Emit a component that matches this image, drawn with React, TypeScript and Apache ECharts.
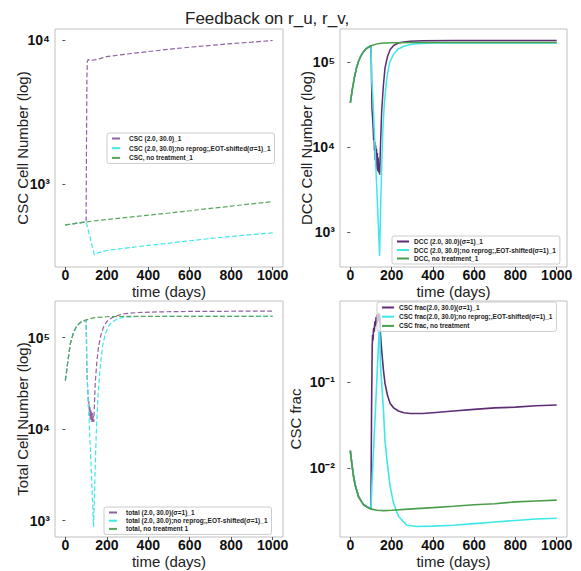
import React, { useEffect, useRef } from "react";
import * as echarts from "echarts";

const FONT = "'Liberation Sans', Arial, sans-serif";
const TITLE = "Feedback on r_u, r_v,";
const X_NAME = "time (days)";
const xTicks = [0, 200, 400, 600, 800, 1000];

// Panel 1: CSC cell number
const cscTicks = [1000, 10000];
const cscTreat: number[][] = [[0, 519], [50, 532], [100, 545], [102, 2000], [104, 5600], [106, 7050], [110, 7300], [120, 7200], [150, 7300], [200, 7650], [300, 7980], [400, 8300], [500, 8600], [600, 8900], [700, 9150], [800, 9420], [900, 9650], [1000, 9900]];
const cscNoReprog: number[][] = [[0, 519], [50, 532], [100, 545], [110, 480], [120, 420], [130, 365], [140, 322], [150, 330], [175, 338], [200, 345], [300, 360], [400, 374], [500, 388], [600, 403], [700, 418], [800, 432], [900, 445], [1000, 457]];
const cscNone: number[][] = [[0, 519], [100, 545], [200, 566], [300, 586], [400, 607], [500, 628], [600, 651], [700, 676], [800, 701], [900, 727], [1000, 754]];

// Panel 2: DCC cell number
const dccTicks = [1000, 10000, 100000];
const dccTreat: number[][] = [[0, 33000], [10, 48000], [20, 66000], [30, 85000], [40, 102000], [50, 116000], [60, 128000], [75, 142000], [100, 155000], [102, 90000], [105, 28000], [108, 22000], [111, 16000], [113, 12000], [115, 15000], [117, 9000], [119, 11500], [121, 7000], [123, 10500], [125, 6000], [127, 9500], [129, 5500], [131, 8500], [133, 5200], [135, 7500], [137, 5000], [139, 6500], [142, 4700], [147, 12000], [152, 26500], [160, 52000], [168, 85000], [180, 115000], [193, 140000], [210, 156000], [233, 167000], [260, 172000], [290, 175000], [350, 177500], [500, 178500], [1000, 179000]];
const dccNoReprog: number[][] = [[0, 33000], [10, 48000], [20, 66000], [30, 85000], [40, 102000], [50, 116000], [60, 128000], [75, 142000], [100, 155000], [104, 60000], [110, 35700], [115, 18000], [120, 9500], [125, 4900], [130, 2600], [135, 1330], [140, 690], [142, 523], [146, 1600], [150, 3800], [154, 8500], [158, 16700], [165, 33000], [177, 65000], [190, 98000], [209, 122000], [230, 141000], [257, 152000], [290, 160000], [322, 164000], [400, 166500], [1000, 167000]];
const dccNone: number[][] = [[0, 33000], [10, 48000], [20, 66000], [30, 85000], [40, 102000], [50, 116000], [60, 128000], [75, 142000], [100, 155000], [125, 162000], [150, 166000], [200, 168500], [300, 169000], [1000, 169000]];

// Panel 3: total cell number
const totTicks = [1000, 10000, 100000];
const totTreat: number[][] = [[0, 34000], [12, 55000], [24, 86000], [40, 115000], [57, 136000], [75, 148000], [100, 155000], [102, 100000], [104, 41000], [107, 30000], [110, 22000], [112, 17000], [114, 20000], [116, 14000], [118, 18000], [120, 13000], [122, 16500], [124, 12500], [126, 15500], [128, 12000], [130, 15000], [132, 12000], [134, 14000], [137, 12000], [140, 18000], [144, 31600], [152, 55000], [160, 79000], [172, 108000], [184, 130000], [200, 150000], [225, 165000], [250, 174000], [282, 182000], [350, 188000], [450, 191000], [600, 193000], [1000, 195000]];
const totNoReprog: number[][] = [[0, 34000], [12, 55000], [24, 86000], [40, 115000], [57, 136000], [75, 148000], [100, 155000], [103, 45000], [110, 22000], [115, 12000], [120, 6500], [125, 3500], [130, 1900], [136, 860], [140, 1700], [145, 4500], [149, 9000], [158, 24000], [168, 48000], [180, 82000], [193, 110000], [208, 133000], [225, 148000], [250, 160000], [282, 167000], [350, 170000], [1000, 170500]];
const totNone: number[][] = [[0, 34000], [12, 55000], [24, 86000], [40, 115000], [57, 136000], [75, 148000], [97, 155000], [125, 162000], [150, 166000], [200, 169000], [300, 170500], [1000, 171000]];

// Panel 4: CSC fraction
const fracTicks = [0.01, 0.1];
const fracTreat: number[][] = [[0, 0.016], [8, 0.011], [16, 0.008], [25, 0.0062], [40, 0.0047], [55, 0.0041], [65, 0.0038], [80, 0.0036], [100, 0.0034], [103, 0.05], [106, 0.25], [108, 0.35], [110, 0.3], [113, 0.42], [116, 0.38], [119, 0.5], [122, 0.44], [125, 0.56], [128, 0.47], [131, 0.6], [134, 0.5], [137, 0.62], [140, 0.55], [142, 0.6], [146, 0.36], [152, 0.23], [160, 0.14], [168, 0.096], [180, 0.07], [193, 0.056], [210, 0.05], [233, 0.046], [260, 0.044], [290, 0.043], [350, 0.043], [400, 0.044], [500, 0.046], [600, 0.048], [700, 0.05], [800, 0.051], [900, 0.053], [1000, 0.054]];
const fracNoReprog: number[][] = [[0, 0.016], [8, 0.011], [16, 0.008], [25, 0.0062], [40, 0.0047], [55, 0.0041], [65, 0.0038], [80, 0.0036], [100, 0.0034], [105, 0.0067], [110, 0.012], [115, 0.022], [120, 0.039], [125, 0.07], [130, 0.126], [135, 0.23], [140, 0.41], [142, 0.43], [146, 0.16], [152, 0.096], [160, 0.05], [168, 0.021], [180, 0.011], [193, 0.0062], [209, 0.004], [233, 0.0028], [274, 0.0022], [322, 0.00213], [400, 0.00215], [500, 0.0022], [600, 0.0023], [700, 0.0024], [800, 0.0025], [900, 0.0026], [1000, 0.00265]];
const fracNone: number[][] = [[0, 0.016], [8, 0.011], [16, 0.008], [25, 0.0062], [40, 0.0047], [55, 0.0041], [65, 0.0038], [80, 0.0036], [97, 0.0034], [130, 0.00328], [160, 0.00325], [200, 0.00328], [300, 0.0034], [400, 0.00352], [500, 0.00365], [600, 0.0038], [700, 0.0039], [800, 0.0041], [900, 0.0042], [1000, 0.0043]];

const names1 = ["CSC (2.0, 30.0)_1", "CSC (2.0, 30.0);no reprog;,EOT-shifted(σ=1)_1", "CSC, no treatment_1"];
const names2 = ["DCC (2.0, 30.0)(σ=1)_1", "DCC (2.0, 30.0);no reprog;,EOT-shifted(σ=1)_1", "DCC, no treatment_1"];
const names3 = ["total (2.0, 30.0)(σ=1)_1", "total (2.0, 30.0);no reprog;,EOT-shifted(σ=1)_1", "total, no treatment 1"];
const names4 = ["CSC frac(2.0, 30.0)(σ=1)_1", "CSC frac(2.0, 30.0);no reprog;,EOT-shifted(σ=1)_1", "CSC frac, no treatment"];
const yNames = ["CSC Cell Number (log)", "DCC Cell Number (log)", "Total Cell Number (log)", "CSC frac"];

const SUP: Record<string, string> = { "0": "⁰", "1": "¹", "2": "²", "3": "³", "4": "⁴", "5": "⁵", "6": "⁶", "7": "⁷", "8": "⁸", "9": "⁹", "-": "⁻" };
function pow10Label(v: number): string {
  const e = Math.round(Math.log10(v));
  return "10" + String(e).split("").map((c) => SUP[c] || c).join("");
}

const PURPLE = "#5e2d74";
const PURPLE_D = "#8e62a3";
const CYAN = "#3ee8e8";
const GREEN = "#4a9e4a";
const GREEN_D = "#5aa55a";

export default function App() {
  const ref = useRef<HTMLDivElement>(null);
  useEffect(() => {
    if (!ref.current) return;
    const chart = echarts.init(ref.current, undefined, { renderer: "svg" });
    const grids = [
      { left: 55, top: 29, width: 228, height: 238 },
      { left: 340, top: 29, width: 227, height: 238 },
      { left: 55, top: 301, width: 228, height: 236 },
      { left: 340, top: 301, width: 227, height: 236 },
    ];
    const yRanges = [[265, 11900], [387, 244000], [664, 251000], [0.00161, 0.859]];
    const yTickSets = [cscTicks, dccTicks, totTicks, fracTicks];
    const yGaps = [25, 26, 25, 37];
    const xAxis = grids.map((_, i) => ({
      type: "value",
      gridIndex: i,
      min: -50,
      max: 1050,
      axisLine: { show: false },
      splitLine: { show: false },
      axisTick: { show: true, customValues: xTicks, length: 3, lineStyle: { color: "#555" } },
      axisLabel: { customValues: xTicks, formatter: (v: number) => String(v), fontSize: 14, lineHeight: 12, fontWeight: "bold", color: "#111", margin: 2, fontFamily: FONT },
      name: X_NAME,
      nameLocation: "middle",
      nameGap: 18,
      nameMoveOverlap: false,
      nameTextStyle: { fontSize: 15, lineHeight: 13, color: "#222", fontFamily: FONT },
    }));
    const yAxis = grids.map((_, i) => ({
      type: "log",
      logBase: 10,
      gridIndex: i,
      min: yRanges[i][0],
      max: yRanges[i][1],
      axisLine: { show: false },
      splitLine: { show: false },
      axisTick: { show: true, customValues: yTickSets[i], length: 3, lineStyle: { color: "#555" } },
      axisLabel: { customValues: yTickSets[i], formatter: (v: number) => pow10Label(v), fontSize: 14, fontWeight: "bold", color: "#111", margin: 5, fontFamily: FONT },
      name: yNames[i],
      nameLocation: "middle",
      nameGap: yGaps[i],
      nameMoveOverlap: false,
      nameTextStyle: { fontSize: 15, color: "#222", fontFamily: FONT },
    }));
    const mk = (name: string, data: number[][], idx: number, color: string, width: number, type: string, z: number) => ({
      type: "line",
      name,
      data,
      xAxisIndex: idx,
      yAxisIndex: idx,
      symbol: "none",
      lineStyle: { color, width, type },
      itemStyle: { color },
      z,
    });
    const series = [
      mk(names1[0], cscTreat, 0, PURPLE_D, 1.2, "dashed", 2),
      mk(names1[1], cscNoReprog, 0, CYAN, 1.2, "dashed", 3),
      mk(names1[2], cscNone, 0, GREEN_D, 1.2, "dashed", 4),
      mk(names2[0], dccTreat, 1, PURPLE, 1.5, "solid", 2),
      mk(names2[1], dccNoReprog, 1, CYAN, 1.5, "solid", 3),
      mk(names2[2], dccNone, 1, GREEN, 1.5, "solid", 4),
      mk(names3[0], totTreat, 2, PURPLE_D, 1.2, "dashed", 2),
      mk(names3[1], totNoReprog, 2, CYAN, 1.2, "dashed", 3),
      mk(names3[2], totNone, 2, GREEN_D, 1.2, "dashed", 4),
      mk(names4[0], fracTreat, 3, PURPLE, 1.6, "solid", 2),
      mk(names4[1], fracNoReprog, 3, CYAN, 1.6, "solid", 3),
      mk(names4[2], fracNone, 3, GREEN, 1.6, "solid", 4),
    ];
    const leg = (data: string[], left: number, top: number, gap: number) => ({
      data,
      orient: "vertical",
      left,
      top,
      itemWidth: 12,
      itemHeight: 7,
      itemGap: gap,
      padding: [2, 4, 2, 4],
      selectedMode: false,
      itemStyle: { opacity: 0 },
      backgroundColor: "rgba(255,255,255,0.7)",
      borderColor: "#ccc",
      borderWidth: 1,
      borderRadius: 2,
      textStyle: { fontSize: 6.5, fontWeight: "bold", color: "#222", fontFamily: FONT },
    });
    chart.setOption({
      animation: false,
      backgroundColor: "#fff",
      title: { text: TITLE, left: 180, top: 5, textStyle: { fontSize: 17, fontWeight: "normal", color: "#222", fontFamily: FONT } },
      grid: grids.map((g) => ({ ...g, show: true, borderColor: "#c0c0c0", borderWidth: 1, backgroundColor: "transparent" })),
      xAxis,
      yAxis,
      legend: [
        leg(names1, 107, 133, 2.7),
        leg(names2, 392, 236, 1.5),
        leg(names3, 104, 507, 1.2),
        leg(names4, 377, 302, 2.2),
      ],
      series,
    });
    return () => chart.dispose();
  }, []);
  return <div ref={ref} style={{ position: "fixed", left: 0, top: 0, width: 581, height: 571, background: "#fff" }} />;
}
